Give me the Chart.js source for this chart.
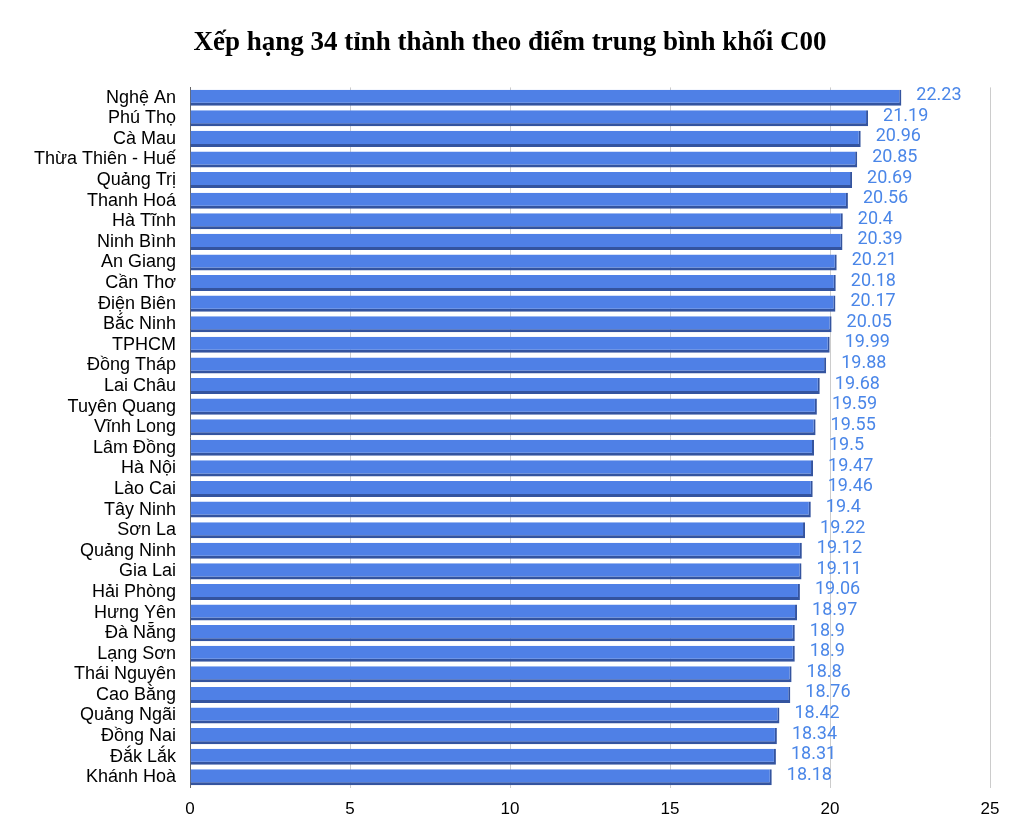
<!DOCTYPE html>
<html>
<head>
<meta charset="utf-8">
<script src="https://cdn.jsdelivr.net/npm/chart.js@4"></script>
<style>
  html, body { margin: 0; padding: 0; background: #fff; }
  #wrap { width: 1020px; height: 836px; }
</style>
</head>
<body>
<div id="wrap"><canvas id="c10-Chart"></canvas></div>
<script>
var provinces = ['Nghệ An', 'Phú Thọ', 'Cà Mau', 'Thừa Thiên - Huế', 'Quảng Trị', 'Thanh Hoá', 'Hà Tĩnh', 'Ninh Bình',
    'An Giang', 'Cần Thơ', 'Điện Biên', 'Bắc Ninh', 'TPHCM', 'Đồng Tháp', 'Lai Châu', 'Tuyên Quang', 'Vĩnh Long',
    'Lâm Đồng', 'Hà Nội', 'Lào Cai', 'Tây Ninh', 'Sơn La', 'Quảng Ninh', 'Gia Lai', 'Hải Phòng', 'Hưng Yên',
    'Đà Nẵng', 'Lạng Sơn', 'Thái Nguyên', 'Cao Bằng', 'Quảng Ngãi', 'Đồng Nai', 'Đắk Lắk', 'Khánh Hoà'];
var diemTB = [22.23, 21.19, 20.96, 20.85, 20.69, 20.56, 20.4, 20.39, 20.21, 20.18, 20.17, 20.05, 19.99, 19.88,
    19.68, 19.59, 19.55, 19.5, 19.47, 19.46, 19.4, 19.22, 19.12, 19.11, 19.06, 18.97, 18.9, 18.9, 18.8, 18.76,
    18.42, 18.34, 18.31, 18.18];
var xTicks = [0, 5, 10, 15, 20, 25];

// ve so lieu o cuoi moi thanh (khong co plugin datalabels)
var nhanSo = {
    id: 'nhanSo',
    afterDatasetsDraw: function (chart) {
        var ctx = chart.ctx;
        var meta = chart.getDatasetMeta(0);
        ctx.save();
        ctx.font = '18px Roboto';
        ctx.fillStyle = '#4a86e8';
        ctx.textAlign = 'left';
        ctx.textBaseline = 'middle';
        meta.data.forEach(function (bar, i) {
            ctx.fillText(String(diemTB[i]), bar.x + 15, bar.y - 2);
        });
        ctx.restore();
    }
};

var ctx = document.getElementById('c10-Chart').getContext('2d');
var chart = new Chart(ctx, {
    type: 'bar',
    data: {
        labels: provinces,
        datasets: [{
            label: 'Điểm trung bình',
            backgroundColor: '#4f80e6',
            borderColor: '#34549f',
            borderWidth: {top: 0, right: 2, bottom: 3, left: 0},
            borderSkipped: false,
            barPercentage: 0.78,
            categoryPercentage: 1,
            data: diemTB
        }]
    },
    options: {
        indexAxis: 'y',
        responsive: true,
        maintainAspectRatio: false,
        animation: false,
        layout: {padding: {left: 30, right: 30, top: 0, bottom: 4}},
        plugins: {
            legend: {display: false},
            tooltip: {enabled: false},
            title: {
                display: true,
                text: 'Xếp hạng 34 tỉnh thành theo điểm trung bình khối C00',
                color: '#000',
                font: {family: '"Liberation Serif", "Times New Roman", serif', size: 27, weight: 'bold'},
                padding: {top: 27, bottom: 28}
            }
        },
        scales: {
            x: {
                min: 0,
                max: 25,
                afterBuildTicks: function (scale) {
                    scale.ticks = xTicks.map(function (v) { return {value: v}; });
                },
                grid: {color: '#cccccc', drawTicks: false},
                border: {display: false},
                ticks: {color: '#000', padding: 12, font: {family: '"Liberation Sans", Arial, sans-serif', size: 17}}
            },
            y: {
                afterFit: function (scale) { scale.width = 160; },
                grid: {display: false, drawTicks: false},
                border: {display: true, color: '#666666', width: 1},
                ticks: {
                    autoSkip: false,
                    color: '#000',
                    padding: 14,
                    font: {family: '"Liberation Sans", Arial, sans-serif', size: 18}
                }
            }
        }
    },
    plugins: [nhanSo]
});
</script>
</body>
</html>
